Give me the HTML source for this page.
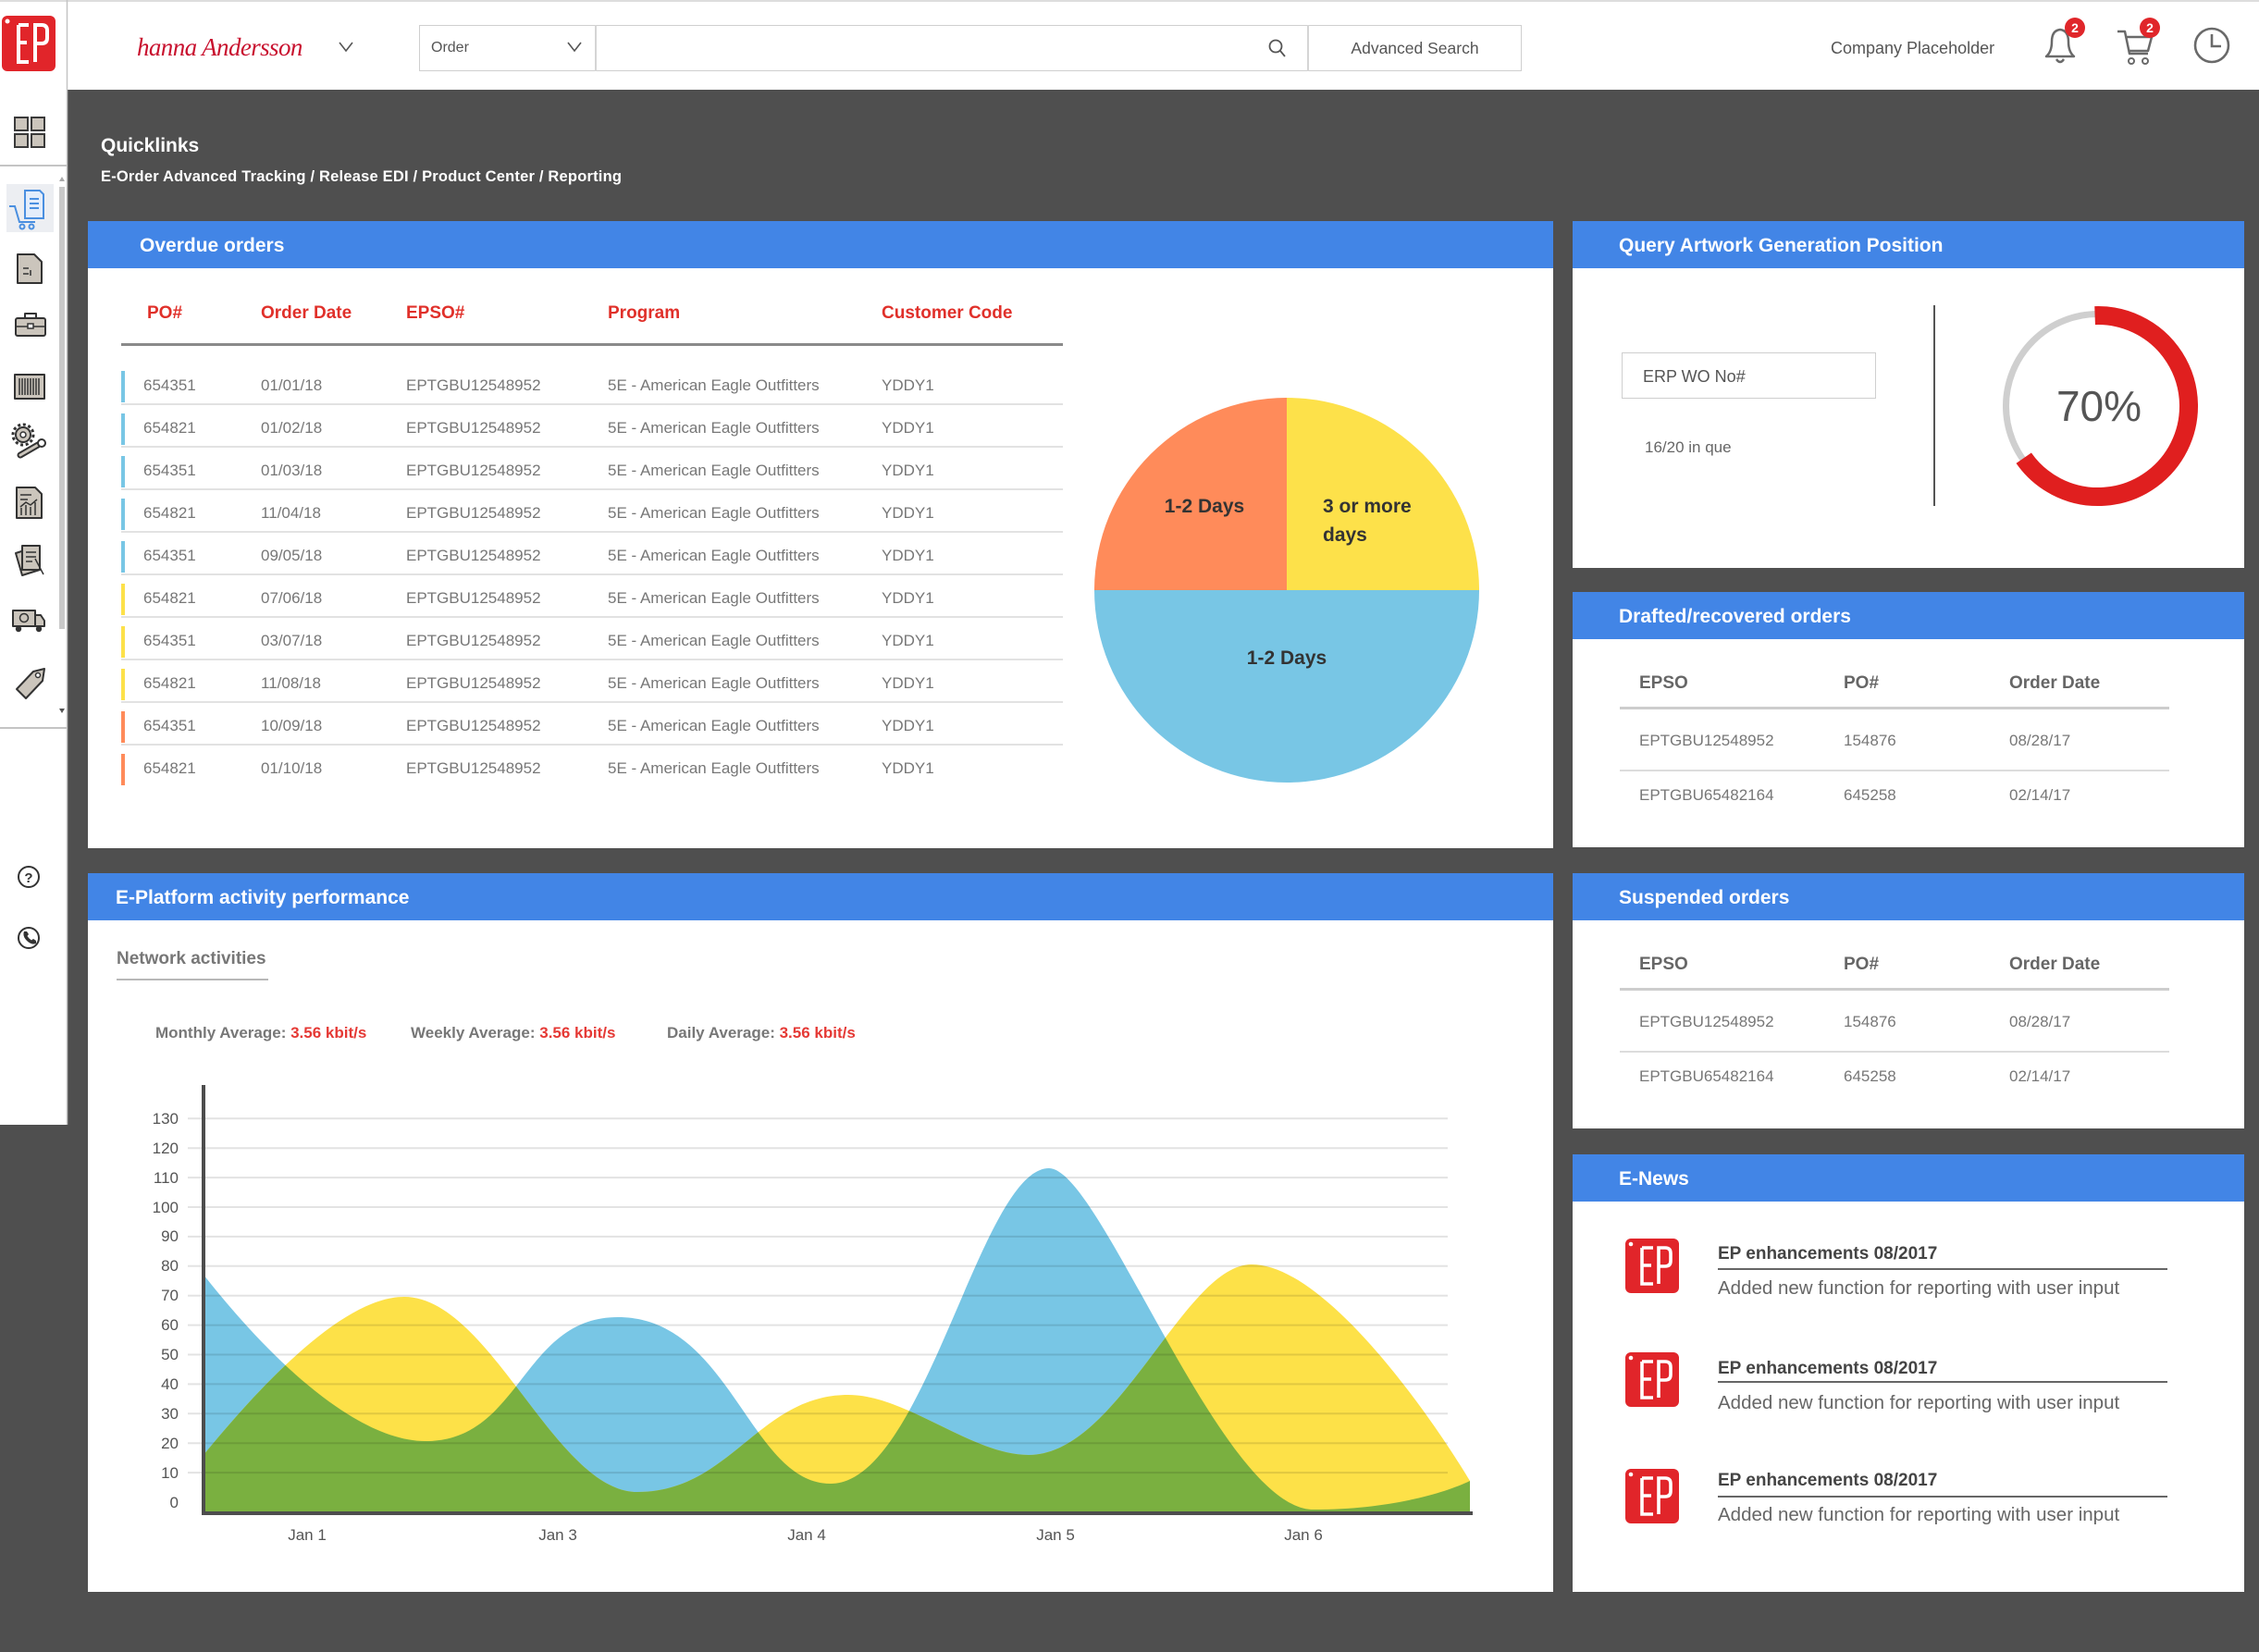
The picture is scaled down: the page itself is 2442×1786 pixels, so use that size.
<!DOCTYPE html>
<html><head><meta charset="utf-8">
<style>
*{margin:0;padding:0;box-sizing:border-box}
html,body{width:2442px;height:1786px;overflow:hidden;background:#4f4f4f;font-family:"Liberation Sans",Arial,sans-serif;position:relative}
.a{position:absolute;white-space:nowrap;line-height:1}
.p{position:absolute;background:#fff}
.hb{position:absolute;left:0;top:0;right:0;height:51px;background:#4285e6}
.pt{position:absolute;white-space:nowrap;line-height:1;color:#fff;font-weight:bold;font-size:21px}
.th{position:absolute;white-space:nowrap;line-height:1;color:#e0302a;font-weight:bold;font-size:19px}
.td{position:absolute;white-space:nowrap;line-height:1;color:#777;font-size:17px}
.bar{position:absolute;left:131px;width:4px;height:34px}
.sep{position:absolute;left:131px;width:1018px;height:2px;background:#e2e2e2}
.gh{position:absolute;white-space:nowrap;line-height:1;color:#666;font-weight:bold;font-size:19px}
.yl{position:absolute;left:140px;width:53px;text-align:right;line-height:1;font-size:17px;color:#555}
.xl{position:absolute;width:100px;text-align:center;line-height:1;font-size:17px;color:#555;top:1651px}
.nt{position:absolute;white-space:nowrap;line-height:1;color:#444;font-weight:bold;font-size:19px;left:1857px}
.nd{position:absolute;white-space:nowrap;line-height:1;color:#666;font-size:20.5px;left:1857px}
.nl{position:absolute;left:1857px;width:486px;height:2px;background:#666}
</style></head><body>

<!-- header -->
<div class="p" style="left:0;top:0;width:2442px;height:97px;border-top:2px solid #ddd"></div>
<!-- sidebar -->
<div class="p" style="left:0;top:97px;width:73px;height:1119px"></div>

<!-- panels -->
<div class="p" style="left:95px;top:239px;width:1584px;height:678px"><div class="hb"></div></div>
<div class="p" style="left:95px;top:944px;width:1584px;height:777px"><div class="hb"></div></div>
<div class="p" style="left:1700px;top:239px;width:726px;height:375px"><div class="hb"></div></div>
<div class="p" style="left:1700px;top:640px;width:726px;height:276px"><div class="hb"></div></div>
<div class="p" style="left:1700px;top:944px;width:726px;height:276px"><div class="hb"></div></div>
<div class="p" style="left:1700px;top:1248px;width:726px;height:473px"><div class="hb"></div></div>

<!-- search box -->
<div class="a" style="left:453px;top:27px;width:1192px;height:50px;border:1.5px solid #cfcfcf;background:#fff"></div>
<div class="a" style="left:643px;top:27px;width:1.5px;height:50px;background:#d5d5d5"></div>
<div class="a" style="left:1413px;top:27px;width:1.5px;height:50px;background:#d5d5d5"></div>

<svg class="a" style="left:0;top:0" width="2442" height="1786" viewBox="0 0 2442 1786">
  <defs>
    <clipPath id="cb"><path d="M220,1634 L220,1378 C300,1480 390,1558 460,1558 C564,1558 564,1424 668,1424 C790,1424 810,1604 898,1604 C1000,1604 1060,1263 1134,1263 C1190,1263 1320,1632 1420,1632 C1500,1632 1560,1615 1589,1601 L1589,1634 Z"/></clipPath>
  </defs>
  <!-- header EP logo -->
  <rect x="2" y="17" width="58" height="60" rx="6" fill="#e1252a"/>
  <circle cx="8" cy="23" r="2.5" fill="#fff"/>
  <g stroke="#fff" stroke-width="4" fill="none">
    <path d="M20,27 H31 M20,27 V67 H31 M20,46 H29"/>
    <path d="M38,67 V27 H45 Q51,27 51,33 V41 Q51,47 45,47 H38"/>
  </g>
  <line x1="72.5" y1="0" x2="72.5" y2="1216" stroke="#c4c4c4" stroke-width="1.5"/>
  <!-- chevrons -->
  <polyline points="367,46 374,55 381,46" fill="none" stroke="#555" stroke-width="1.6"/>
  <polyline points="614,46 621,55 628,46" fill="none" stroke="#555" stroke-width="1.6"/>
  <!-- magnifier -->
  <circle cx="1379" cy="50" r="6.5" fill="none" stroke="#555" stroke-width="1.8"/>
  <line x1="1384" y1="55" x2="1389" y2="61" stroke="#555" stroke-width="1.8"/>
  <!-- bell -->
  <path d="M2212,61 Q2218,56 2218,45 Q2218,33 2227,32 Q2236,33 2236,45 Q2236,56 2242,61 Z" fill="none" stroke="#6a6a6a" stroke-width="2.5" stroke-linejoin="round"/>
  <path d="M2223,64 Q2227,70 2231,64" fill="none" stroke="#6a6a6a" stroke-width="2.5"/>
  <circle cx="2243" cy="30" r="11" fill="#e0262a"/>
  <text x="2243" y="35" font-family="Liberation Sans" font-weight="bold" font-size="14" fill="#fff" text-anchor="middle">2</text>
  <!-- cart -->
  <path d="M2289,34 H2297 L2302,58 H2322 M2298,40 H2326 L2322,55 H2301" fill="none" stroke="#6a6a6a" stroke-width="2.5" stroke-linejoin="round"/>
  <circle cx="2304" cy="66" r="3" fill="none" stroke="#6a6a6a" stroke-width="2"/>
  <circle cx="2319" cy="66" r="3" fill="none" stroke="#6a6a6a" stroke-width="2"/>
  <circle cx="2324" cy="30" r="11" fill="#e0262a"/>
  <text x="2324" y="35" font-family="Liberation Sans" font-weight="bold" font-size="14" fill="#fff" text-anchor="middle">2</text>
  <!-- clock -->
  <circle cx="2391" cy="49" r="18" fill="none" stroke="#6a6a6a" stroke-width="2.6"/>
  <path d="M2391,37 V50 H2401" fill="none" stroke="#6a6a6a" stroke-width="2.6"/>

  <!-- sidebar -->
  <line x1="0" y1="179" x2="72" y2="179" stroke="#c4c4c4" stroke-width="2"/>
  <line x1="0" y1="787" x2="72" y2="787" stroke="#c4c4c4" stroke-width="2"/>
  <g fill="#cbc5bc" stroke="#3a3a3a" stroke-width="2">
    <rect x="16" y="127" width="14" height="14"/><rect x="34" y="127" width="14" height="14"/>
    <rect x="16" y="145" width="14" height="14"/><rect x="34" y="145" width="14" height="14"/>
  </g>
  <rect x="7" y="199" width="51" height="52" fill="#eceef2"/>
  <g stroke="#4a8fe0" stroke-width="2" fill="none">
    <path d="M27,206 H43 L47,210 V236 H27 Z" fill="#e3edfb"/>
    <path d="M32,215 H42 M32,220 H42 M32,225 H42"/>
    <path d="M10,223 H16 L21,240 H38"/>
    <circle cx="24" cy="245" r="2.5"/><circle cx="34" cy="245" r="2.5"/>
  </g>
  <g fill="#cbc5bc" stroke="#333" stroke-width="2" stroke-linejoin="round">
    <path d="M19,275 H37 L45,283 V306 H19 Z"/>
    <rect x="17" y="344" width="32" height="19" rx="2"/>
    <path d="M27,344 V339 H39 V344" fill="none"/>
    <rect x="16" y="405" width="32" height="26"/>
    <circle cx="25" cy="470" r="8"/>
    <path d="M18,527 H38 L45,534 V560 H18 Z"/>
    <path d="M17,598 L36,592 L43,616 L24,622 Z"/>
    <rect x="24" y="590" width="19" height="26"/>
    <rect x="14" y="660" width="24" height="17"/>
    <path d="M38,665 H44 L48,671 V677 H38 Z"/>
    <path d="M18,745 L36,726 L48,723 L46,736 L28,755 Z"/>
  </g>
  <g stroke="#333" stroke-width="1.5" fill="none">
    <path d="M25,290 H31 M25,296 H31 M33,292 V298"/>
    <path d="M17,353 H49"/><rect x="30" y="350" width="6" height="5" fill="#fff"/>
    <path d="M21,409 V427 M24,409 V427 M27,409 V427 M30,409 V427 M33,409 V427 M36,409 V427 M39,409 V427 M42,409 V427"/>
    <circle cx="25" cy="470" r="11" stroke-width="3" stroke-dasharray="3 2.7"/>
    <circle cx="25" cy="470" r="3" fill="#fff"/>
    <path d="M22,535 H34 M22,540 H30 M23,557 V549 M28,557 V546 M33,557 V548 M38,557 V543 M22,548 L28,543 L33,546 L40,540"/>
    <path d="M28,597 H39 M28,602 H39 M28,607 H35 M38,604 L47,621"/>
    <circle cx="26" cy="668" r="4.5"/>
  </g>
  <path d="M22,492 L41,481" stroke="#333" stroke-width="7" stroke-linecap="round"/>
  <path d="M22,492 L41,481" stroke="#cbc5bc" stroke-width="3" stroke-linecap="round"/>
  <circle cx="45" cy="479" r="4" fill="#fff" stroke="#333" stroke-width="2"/>
  <circle cx="20" cy="680" r="3.2" fill="#333"/><circle cx="42" cy="680" r="3.2" fill="#333"/>
  <circle cx="41" cy="730" r="2.5" fill="#fff" stroke="#333" stroke-width="1.5"/>
  <rect x="64" y="202" width="6" height="478" fill="#c9c9c9"/>
  <path d="M64,196 L67,191 L70,196 Z" fill="#aaa"/>
  <path d="M64,766 L67,771 L70,766 Z" fill="#555"/>
  <circle cx="31" cy="948" r="11" fill="none" stroke="#333" stroke-width="2"/>
  <text x="31" y="954" font-family="Liberation Sans" font-weight="bold" font-size="15" fill="#333" text-anchor="middle">?</text>
  <circle cx="31" cy="1014" r="11" fill="none" stroke="#333" stroke-width="2"/>
  <path d="M26,1007 q-2,5 3,10 q5,5 10,3 l0,-3 -3,-2 -2,1.5 q-3,-2 -4.5,-4.5 l1.5,-2 -2,-3 z" fill="#333"/>

  <!-- pie -->
  <path d="M1391,638 L1183,638 A208,208 0 0 0 1599,638 Z" fill="#78c6e5"/>
  <path d="M1391,638 L1183,638 A208,208 0 0 1 1391,430 Z" fill="#ff8b5a"/>
  <path d="M1391,638 L1391,430 A208,208 0 0 1 1599,638 Z" fill="#fde14a"/>

  <!-- gauge -->
  <circle cx="2268" cy="439" r="99.5" fill="none" stroke="#cfcfcf" stroke-width="7"/>
  <path d="M2264.6,341.1 A98,98 0 1 1 2187.7,495.2" fill="none" stroke="#e01f1f" stroke-width="20"/>
  <line x1="2091" y1="330" x2="2091" y2="547" stroke="#555" stroke-width="2"/>

  <!-- area chart -->
  <path d="M220,1634 L220,1378 C300,1480 390,1558 460,1558 C564,1558 564,1424 668,1424 C790,1424 810,1604 898,1604 C1000,1604 1060,1263 1134,1263 C1190,1263 1320,1632 1420,1632 C1500,1632 1560,1615 1589,1601 L1589,1634 Z" fill="#78c6e5"/>
  <path d="M220,1634 L220,1573 C280,1500 370,1402 437,1402 C530,1402 600,1613 689,1613 C790,1613 820,1508 917,1508 C980,1508 1050,1573 1112,1573 C1210,1573 1280,1367 1353,1367 C1430,1367 1540,1520 1589,1601 L1589,1634 Z" fill="#fde148"/>
  <path clip-path="url(#cb)" d="M220,1634 L220,1573 C280,1500 370,1402 437,1402 C530,1402 600,1613 689,1613 C790,1613 820,1508 917,1508 C980,1508 1050,1573 1112,1573 C1210,1573 1280,1367 1353,1367 C1430,1367 1540,1520 1589,1601 L1589,1634 Z" fill="#7ab040"/>
  <g stroke="#000" stroke-opacity="0.11" stroke-width="2">
    <line x1="203" y1="1592.1" x2="1565" y2="1592.1"/>
    <line x1="203" y1="1560.2" x2="1565" y2="1560.2"/>
    <line x1="203" y1="1528.3" x2="1565" y2="1528.3"/>
    <line x1="203" y1="1496.4" x2="1565" y2="1496.4"/>
    <line x1="203" y1="1464.5" x2="1565" y2="1464.5"/>
    <line x1="203" y1="1432.6" x2="1565" y2="1432.6"/>
    <line x1="203" y1="1400.7" x2="1565" y2="1400.7"/>
    <line x1="203" y1="1368.8" x2="1565" y2="1368.8"/>
    <line x1="203" y1="1336.9" x2="1565" y2="1336.9"/>
    <line x1="203" y1="1305" x2="1565" y2="1305"/>
    <line x1="203" y1="1273.1" x2="1565" y2="1273.1"/>
    <line x1="203" y1="1241.2" x2="1565" y2="1241.2"/>
    <line x1="203" y1="1209.3" x2="1565" y2="1209.3"/>
  </g>
  <rect x="218" y="1173" width="4" height="465" fill="#4d4d4d"/>
  <rect x="218" y="1634" width="1374" height="4" fill="#4d4d4d"/>

  <!-- E-News icons -->
  <g>
    <rect x="1757" y="1339" width="58" height="59" rx="6" fill="#e1252a"/>
    <rect x="1757" y="1462" width="58" height="59" rx="6" fill="#e1252a"/>
    <rect x="1757" y="1588" width="58" height="59" rx="6" fill="#e1252a"/>
    <circle cx="1763" cy="1345" r="2.3" fill="#fff"/>
    <circle cx="1763" cy="1468" r="2.3" fill="#fff"/>
    <circle cx="1763" cy="1594" r="2.3" fill="#fff"/>
    <g stroke="#fff" stroke-width="3.6" fill="none">
      <path d="M1775,1349 H1787 M1775,1349 V1388 H1787 M1775,1368 H1785"/>
      <path d="M1793,1388 V1349 H1800 Q1806,1349 1806,1355 V1363 Q1806,1369 1800,1369 H1793"/>
      <path d="M1775,1472 H1787 M1775,1472 V1511 H1787 M1775,1491 H1785"/>
      <path d="M1793,1511 V1472 H1800 Q1806,1472 1806,1478 V1486 Q1806,1492 1800,1492 H1793"/>
      <path d="M1775,1598 H1787 M1775,1598 V1637 H1787 M1775,1617 H1785"/>
      <path d="M1793,1637 V1598 H1800 Q1806,1598 1806,1604 V1612 Q1806,1618 1800,1618 H1793"/>
    </g>
  </g>
</svg>

<!-- header texts -->
<div class="a" style="left:148px;top:38px;font-family:'Liberation Serif',serif;font-style:italic;font-size:27px;color:#c8102e;letter-spacing:-0.6px">hanna Andersson</div>
<div class="a" style="left:466px;top:44px;font-size:16px;color:#555">Order</div>
<div class="a" style="left:1414px;top:44px;width:231px;text-align:center;font-size:17.5px;color:#555">Advanced Search</div>
<div class="a" style="left:1979px;top:43px;font-size:18px;color:#555">Company Placeholder</div>

<!-- quicklinks -->
<div class="a" style="left:109px;top:147px;font-size:21px;font-weight:bold;color:#fff">Quicklinks</div>
<div class="a" style="left:109px;top:183px;font-size:16.5px;font-weight:bold;color:#fff;letter-spacing:0.2px">E-Order Advanced Tracking / Release EDI / Product Center / Reporting</div>

<!-- panel titles -->
<div class="pt" style="left:151px;top:255px">Overdue orders</div>
<div class="pt" style="left:125px;top:960px">E-Platform activity performance</div>
<div class="pt" style="left:1750px;top:255px">Query Artwork Generation Position</div>
<div class="pt" style="left:1750px;top:656px">Drafted/recovered orders</div>
<div class="pt" style="left:1750px;top:960px">Suspended orders</div>
<div class="pt" style="left:1750px;top:1264px">E-News</div>

<!-- overdue table -->
<div class="th" style="left:159px;top:329px">PO#</div>
<div class="th" style="left:282px;top:329px">Order Date</div>
<div class="th" style="left:439px;top:329px">EPSO#</div>
<div class="th" style="left:657px;top:329px">Program</div>
<div class="th" style="left:953px;top:329px">Customer Code</div>
<div class="a" style="left:131px;top:371px;width:1018px;height:3px;background:#8a8a8a"></div>

<div class="bar" style="top:401px;background:#78c6e5"></div>
<div class="bar" style="top:447px;background:#78c6e5"></div>
<div class="bar" style="top:493px;background:#78c6e5"></div>
<div class="bar" style="top:539px;background:#78c6e5"></div>
<div class="bar" style="top:585px;background:#78c6e5"></div>
<div class="bar" style="top:631px;background:#fde14a"></div>
<div class="bar" style="top:677px;background:#fde14a"></div>
<div class="bar" style="top:723px;background:#fde14a"></div>
<div class="bar" style="top:769px;background:#ff8b5a"></div>
<div class="bar" style="top:815px;background:#ff8b5a"></div>

<div class="sep" style="top:436px"></div>
<div class="sep" style="top:482px"></div>
<div class="sep" style="top:528px"></div>
<div class="sep" style="top:574px"></div>
<div class="sep" style="top:620px"></div>
<div class="sep" style="top:666px"></div>
<div class="sep" style="top:712px"></div>
<div class="sep" style="top:758px"></div>
<div class="sep" style="top:804px"></div>

<div class="td" style="left:155px;top:408px">654351</div><div class="td" style="left:282px;top:408px">01/01/18</div><div class="td" style="left:439px;top:408px">EPTGBU12548952</div><div class="td" style="left:657px;top:408px">5E - American Eagle Outfitters</div><div class="td" style="left:953px;top:408px">YDDY1</div>
<div class="td" style="left:155px;top:454px">654821</div><div class="td" style="left:282px;top:454px">01/02/18</div><div class="td" style="left:439px;top:454px">EPTGBU12548952</div><div class="td" style="left:657px;top:454px">5E - American Eagle Outfitters</div><div class="td" style="left:953px;top:454px">YDDY1</div>
<div class="td" style="left:155px;top:500px">654351</div><div class="td" style="left:282px;top:500px">01/03/18</div><div class="td" style="left:439px;top:500px">EPTGBU12548952</div><div class="td" style="left:657px;top:500px">5E - American Eagle Outfitters</div><div class="td" style="left:953px;top:500px">YDDY1</div>
<div class="td" style="left:155px;top:546px">654821</div><div class="td" style="left:282px;top:546px">11/04/18</div><div class="td" style="left:439px;top:546px">EPTGBU12548952</div><div class="td" style="left:657px;top:546px">5E - American Eagle Outfitters</div><div class="td" style="left:953px;top:546px">YDDY1</div>
<div class="td" style="left:155px;top:592px">654351</div><div class="td" style="left:282px;top:592px">09/05/18</div><div class="td" style="left:439px;top:592px">EPTGBU12548952</div><div class="td" style="left:657px;top:592px">5E - American Eagle Outfitters</div><div class="td" style="left:953px;top:592px">YDDY1</div>
<div class="td" style="left:155px;top:638px">654821</div><div class="td" style="left:282px;top:638px">07/06/18</div><div class="td" style="left:439px;top:638px">EPTGBU12548952</div><div class="td" style="left:657px;top:638px">5E - American Eagle Outfitters</div><div class="td" style="left:953px;top:638px">YDDY1</div>
<div class="td" style="left:155px;top:684px">654351</div><div class="td" style="left:282px;top:684px">03/07/18</div><div class="td" style="left:439px;top:684px">EPTGBU12548952</div><div class="td" style="left:657px;top:684px">5E - American Eagle Outfitters</div><div class="td" style="left:953px;top:684px">YDDY1</div>
<div class="td" style="left:155px;top:730px">654821</div><div class="td" style="left:282px;top:730px">11/08/18</div><div class="td" style="left:439px;top:730px">EPTGBU12548952</div><div class="td" style="left:657px;top:730px">5E - American Eagle Outfitters</div><div class="td" style="left:953px;top:730px">YDDY1</div>
<div class="td" style="left:155px;top:776px">654351</div><div class="td" style="left:282px;top:776px">10/09/18</div><div class="td" style="left:439px;top:776px">EPTGBU12548952</div><div class="td" style="left:657px;top:776px">5E - American Eagle Outfitters</div><div class="td" style="left:953px;top:776px">YDDY1</div>
<div class="td" style="left:155px;top:822px">654821</div><div class="td" style="left:282px;top:822px">01/10/18</div><div class="td" style="left:439px;top:822px">EPTGBU12548952</div><div class="td" style="left:657px;top:822px">5E - American Eagle Outfitters</div><div class="td" style="left:953px;top:822px">YDDY1</div>

<!-- pie labels -->
<div class="a" style="left:1222px;top:537px;width:160px;text-align:center;font-size:21px;font-weight:bold;color:#333">1-2 Days</div>
<div class="a" style="left:1430px;top:537px;font-size:21px;font-weight:bold;color:#333">3 or more</div>
<div class="a" style="left:1430px;top:568px;font-size:21px;font-weight:bold;color:#333">days</div>
<div class="a" style="left:1311px;top:701px;width:160px;text-align:center;font-size:21px;font-weight:bold;color:#333">1-2 Days</div>

<!-- E-Platform -->
<div class="a" style="left:126px;top:1027px;font-size:19px;font-weight:bold;color:#777">Network activities</div>
<div class="a" style="left:126px;top:1058px;width:164px;height:2px;background:#b8b8b8"></div>
<div class="a" style="left:168px;top:1108px;font-size:17px;font-weight:bold;color:#777">Monthly Average: <span style="color:#e53935">3.56 kbit/s</span></div>
<div class="a" style="left:444px;top:1108px;font-size:17px;font-weight:bold;color:#777">Weekly Average: <span style="color:#e53935">3.56 kbit/s</span></div>
<div class="a" style="left:721px;top:1108px;font-size:17px;font-weight:bold;color:#777">Daily Average: <span style="color:#e53935">3.56 kbit/s</span></div>

<div class="yl" style="top:1200.8px">130</div>
<div class="yl" style="top:1232.7px">120</div>
<div class="yl" style="top:1264.6px">110</div>
<div class="yl" style="top:1296.5px">100</div>
<div class="yl" style="top:1328.4px">90</div>
<div class="yl" style="top:1360.3px">80</div>
<div class="yl" style="top:1392.2px">70</div>
<div class="yl" style="top:1424.1px">60</div>
<div class="yl" style="top:1456px">50</div>
<div class="yl" style="top:1487.9px">40</div>
<div class="yl" style="top:1519.8px">30</div>
<div class="yl" style="top:1551.7px">20</div>
<div class="yl" style="top:1583.6px">10</div>
<div class="yl" style="top:1615.5px">0</div>

<div class="xl" style="left:282px">Jan 1</div>
<div class="xl" style="left:553px">Jan 3</div>
<div class="xl" style="left:822px">Jan 4</div>
<div class="xl" style="left:1091px">Jan 5</div>
<div class="xl" style="left:1359px">Jan 6</div>

<!-- Query artwork -->
<div class="a" style="left:1753px;top:381px;width:275px;height:50px;border:1.5px solid #cfcfcf"></div>
<div class="a" style="left:1776px;top:398px;font-size:18px;color:#555">ERP WO No#</div>
<div class="a" style="left:1778px;top:475px;font-size:17px;color:#666">16/20 in que</div>
<div class="a" style="left:2169px;top:416px;width:200px;text-align:center;font-size:46px;color:#555">70%</div>

<!-- Drafted -->
<div class="gh" style="left:1772px;top:729px">EPSO</div>
<div class="gh" style="left:1993px;top:729px">PO#</div>
<div class="gh" style="left:2172px;top:729px">Order Date</div>
<div class="a" style="left:1751px;top:764px;width:594px;height:3px;background:#cdcdcd"></div>
<div class="td" style="left:1772px;top:792px">EPTGBU12548952</div><div class="td" style="left:1993px;top:792px">154876</div><div class="td" style="left:2172px;top:792px">08/28/17</div>
<div class="a" style="left:1751px;top:832px;width:594px;height:2px;background:#dcdcdc"></div>
<div class="td" style="left:1772px;top:851px">EPTGBU65482164</div><div class="td" style="left:1993px;top:851px">645258</div><div class="td" style="left:2172px;top:851px">02/14/17</div>

<!-- Suspended -->
<div class="gh" style="left:1772px;top:1033px">EPSO</div>
<div class="gh" style="left:1993px;top:1033px">PO#</div>
<div class="gh" style="left:2172px;top:1033px">Order Date</div>
<div class="a" style="left:1751px;top:1068px;width:594px;height:3px;background:#cdcdcd"></div>
<div class="td" style="left:1772px;top:1096px">EPTGBU12548952</div><div class="td" style="left:1993px;top:1096px">154876</div><div class="td" style="left:2172px;top:1096px">08/28/17</div>
<div class="a" style="left:1751px;top:1136px;width:594px;height:2px;background:#dcdcdc"></div>
<div class="td" style="left:1772px;top:1155px">EPTGBU65482164</div><div class="td" style="left:1993px;top:1155px">645258</div><div class="td" style="left:2172px;top:1155px">02/14/17</div>

<!-- E-News -->
<div class="nt" style="top:1346px">EP enhancements 08/2017</div>
<div class="nl" style="top:1371px"></div>
<div class="nd" style="top:1383px">Added new function for reporting with user input</div>
<div class="nt" style="top:1470px">EP enhancements 08/2017</div>
<div class="nl" style="top:1493px"></div>
<div class="nd" style="top:1507px">Added new function for reporting with user input</div>
<div class="nt" style="top:1591px">EP enhancements 08/2017</div>
<div class="nl" style="top:1617px"></div>
<div class="nd" style="top:1628px">Added new function for reporting with user input</div>

</body></html>
